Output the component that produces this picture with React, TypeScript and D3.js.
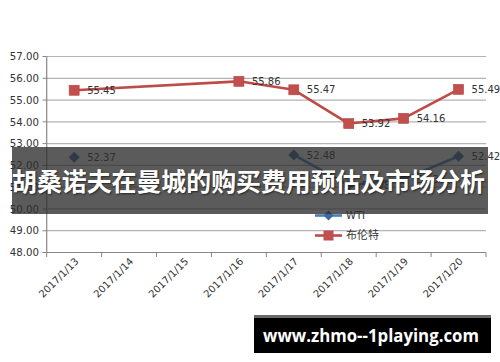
import React from "react";
import * as d3 from "d3";

const categories = [
  "2017/1/13",
  "2017/1/14",
  "2017/1/15",
  "2017/1/16",
  "2017/1/17",
  "2017/1/18",
  "2017/1/19",
  "2017/1/20",
];
const wti: (number | null)[] = [52.37, null, null, null, 52.48, 51.08, 51.37, 52.42];
const brent: (number | null)[] = [55.45, null, null, 55.86, 55.47, 53.92, 54.16, 55.49];
const yTicks = [48, 49, 50, 51, 52, 53, 54, 55, 56, 57];
const seriesNames = ["WTI", "布伦特"];
const title = "胡桑诺夫在曼城的购买费用预估及市场分析";
const watermark = "www.zhmo--1playing.com";

const W = 500;
const H = 362;
const FONT = "'DejaVu Sans', Verdana, sans-serif";

export default function App() {
  const x = d3.scaleBand<string>().domain(categories).range([46.7, 486]);
  const y = d3.scaleLinear().domain([48, 57]).range([252.5, 56.5]);
  const cx = (c: string) => (x(c) ?? 0) + x.bandwidth() / 2;

  const wtiPts = categories.map((c, i) => ({ c, v: wti[i] }));
  const brentPts = categories
    .map((c, i) => ({ c, v: brent[i] }))
    .filter((d) => d.v != null);

  const wtiLine = d3
    .line<{ c: string; v: number | null }>()
    .defined((d) => d.v != null)
    .x((d) => cx(d.c))
    .y((d) => y(d.v as number));
  const brentLine = d3
    .line<{ c: string; v: number | null }>()
    .x((d) => cx(d.c))
    .y((d) => y(d.v as number));

  const blue = "#4a7ebb";
  const blueMarker = "#3b6aa0";
  const red = "#be4b48";
  const redMarker = "#c0504d";
  const grid = "#b3b3b3";
  const axis = "#868686";
  const txt = "#333333";

  const ticksX = [...categories.map((c) => x(c) ?? 0), 486];

  const diamond = (px: number, py: number, r: number) =>
    `M${px},${py - r}L${px + r},${py}L${px},${py + r}L${px - r},${py}Z`;

  return (
    <div style={{ position: "fixed", left: 0, top: 0, width: W, height: H, background: "#fff" }}>
      <svg width={W} height={H} style={{ display: "block" }}>
        <rect width={W} height={H} fill="#fff" />
        {/* gridlines */}
        {yTicks.map((t) => (
          <line key={t} x1={46.7} x2={486} y1={y(t)} y2={y(t)} stroke={t === 48 ? axis : grid} strokeWidth={1.2} />
        ))}
        {/* y axis */}
        <line x1={46.7} x2={46.7} y1={y(57)} y2={y(48)} stroke={axis} strokeWidth={1.2} />
        {yTicks.map((t) => (
          <g key={"yt" + t}>
            <line x1={42.5} x2={46.7} y1={y(t)} y2={y(t)} stroke={axis} />
            <text x={39} y={y(t)} dy="0.36em" textAnchor="end" fontFamily={FONT} fontSize={10.2} fill={txt}>
              {t.toFixed(2)}
            </text>
          </g>
        ))}
        {/* x ticks */}
        {ticksX.map((tx, i) => (
          <line key={"xt" + i} x1={tx} x2={tx} y1={252.5} y2={257} stroke={axis} />
        ))}
        {categories.map((c) => (
          <text
            key={"xl" + c}
            transform={`translate(${cx(c) + 5},${262}) rotate(-45)`}
            textAnchor="end"
            fontFamily={FONT}
            fontSize={10}
            fill={txt}
          >
            {c}
          </text>
        ))}

        {/* brent series */}
        <path d={brentLine(brentPts) ?? ""} fill="none" stroke={red} strokeWidth={2.6} strokeLinejoin="round" />
        {brentPts.map((d) => (
          <g key={"b" + d.c}>
            <rect x={cx(d.c) - 5} y={y(d.v as number) - 5} width={10} height={10} fill={redMarker} stroke="#b8433f" strokeWidth={0.6} />
            <text x={cx(d.c) + 13} y={y(d.v as number)} dy="0.36em" fontFamily={FONT} fontSize={10} fill={txt}>
              {(d.v as number).toFixed(2)}
            </text>
          </g>
        ))}

        {/* wti series */}
        <path d={wtiLine(wtiPts) ?? ""} fill="none" stroke={blue} strokeWidth={2.6} strokeLinejoin="round" />
        {wtiPts
          .filter((d) => d.v != null)
          .map((d) => (
            <g key={"w" + d.c}>
              <path d={diamond(cx(d.c), y(d.v as number), 5.5)} fill={blueMarker} />
              <text x={cx(d.c) + 13} y={y(d.v as number)} dy="0.36em" fontFamily={FONT} fontSize={10} fill={txt}>
                {(d.v as number).toFixed(2)}
              </text>
            </g>
          ))}

        {/* legend */}
        <line x1={315} x2={342} y1={215.5} y2={215.5} stroke={blue} strokeWidth={2.6} />
        <path d={diamond(328.5, 215.5, 5)} fill={blueMarker} />
        <text x={346} y={215.5} dy="0.36em" fontFamily={FONT} fontSize={10} fill={txt}>
          {seriesNames[0]}
        </text>
        <line x1={315} x2={342} y1={235.5} y2={235.5} stroke={red} strokeWidth={2.6} />
        <rect x={323.5} y={230.5} width={10} height={10} fill={redMarker} />
        <text x={346} y={235.5} dy="0.36em" fontFamily="'Noto Sans CJK SC', sans-serif" fontSize={11} fill={txt}>
          {seriesNames[1]}
        </text>

        {/* banner overlay */}
        <rect x={12} y={147} width={476} height={67} fill="rgb(45,45,45)" fillOpacity={0.78} />
        <text
          x={248.5}
          y={182}
          dy="0.36em"
          textAnchor="middle"
          fontFamily="'Noto Sans CJK SC', sans-serif"
          fontWeight={700}
          fontSize={25}
          fill="#ffffff"
          textLength={473}
          lengthAdjust="spacingAndGlyphs"
          style={{ textShadow: "1px 1px 2px rgba(0,0,0,0.6)" }}
        >
          {title}
        </text>

        {/* watermark box */}
        <rect x={254} y={315} width={237} height={3} fill="#6a6a6a" />
        <rect x={254} y={318} width={237} height={35} fill="#000000" />
        <text
          x={371}
          y={336}
          dy="0.36em"
          textAnchor="middle"
          fontFamily="'Open Sans', sans-serif"
          fontWeight={700}
          fontSize={17}
          fill="#ffffff"
          textLength={216}
          lengthAdjust="spacingAndGlyphs"
        >
          {watermark}
        </text>
      </svg>
    </div>
  );
}
